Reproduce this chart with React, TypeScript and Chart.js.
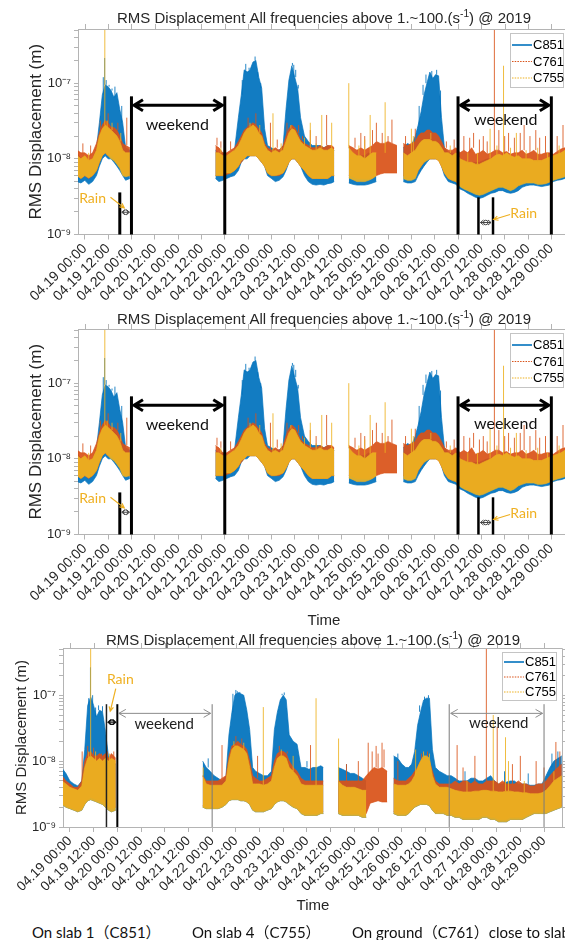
import React, { useEffect, useRef } from "react";
import { Chart, registerables } from "chart.js";

Chart.register(...registerables);
Chart.defaults.font.family = '"Liberation Sans", Arial, sans-serif';

const NM = 1e-9;
const _ = null;

// ---- time grid (hours from 04.19 00:00); a null-valued sample separates recording gaps
const timeHours = [
  -4, -2, 0, 2, 4, 6, 7.5, 9, 10.5, 12, 13.5, 15, 16.5, 18, 19.5, 21, 23.2,
  45,
  67.2, 69, 71, 73, 75, 77, 79, 80.5, 82, 83.5, 85, 86.5, 88, 89.5, 91, 92.5, 94, 96, 98, 100, 102, 103.5, 105, 106.5, 108, 109.5, 111, 113, 115, 117, 119, 121, 123, 125, 127, 128.3,
  132,
  135.8, 138, 140, 142, 144, 146, 148, 150, 152, 154, 156, 158, 160.6,
  162,
  163.8, 166, 168, 170, 171.5, 173, 174.5, 176, 177.5, 179, 180.5, 182, 183.5, 185, 187, 189, 191,
  193, 195, 197, 199, 201, 203, 205, 207, 209, 211, 213, 215, 217, 219, 221, 223, 225, 227, 229, 231, 233, 235, 237, 239, 241, 243, 245, 247, 249,
];

const tickHours = [0, 12, 24, 36, 48, 60, 72, 84, 96, 108, 120, 132, 144, 156, 168, 180, 192, 204, 216, 228, 240];
const xTickLabels = [
  "04.19 00:00", "04.19 12:00", "04.20 00:00", "04.20 12:00", "04.21 00:00", "04.21 12:00",
  "04.22 00:00", "04.22 12:00", "04.23 00:00", "04.23 12:00", "04.24 00:00", "04.24 12:00",
  "04.25 00:00", "04.25 12:00", "04.26 00:00", "04.26 12:00", "04.27 00:00", "04.27 12:00",
  "04.28 00:00", "04.28 12:00", "04.29 00:00",
];
const yTickValues = [
  1e-9, 2e-9, 3e-9, 4e-9, 5e-9, 6e-9, 7e-9, 8e-9, 9e-9,
  1e-8, 2e-8, 3e-8, 4e-8, 5e-8, 6e-8, 7e-8, 8e-8, 9e-8,
  1e-7, 2e-7, 3e-7, 4e-7, 5e-7,
];
const yMajorValues = [1e-9, 1e-8, 1e-7];
const yMajorLabels = ["10\u207B\u2079", "10\u207B\u2078", "10\u207B\u2077"];
const seriesNames = ["C851", "C761", "C755"];
const titleMain = "RMS Displacement All frequencies above 1.~100.(s";
const titleSup = "-1";
const titleTail = ") @ 2019";
const yTitle = "RMS Displacement (m)";
const xTitle = "Time";
const bottomCaptions = ["On slab 1\uFF08C851\uFF09", "On slab 4\uFF08C755\uFF09", "On ground\uFF08C761\uFF09close to slab"];

// ---- upper chart pair (values in nm): band top / bottom per series
const topC851Hi = [
  12, 10, 11, 9, 10, 14, 30, 70, 95, 90, 80, 65, 75, 45, 30, 14, 13,
  _,
  13, 12, 12, 11, 12, 13, 35, 70, 150, 140, 150, 190, 200, 120, 86, 25, 15, 14, 13, 13, 15, 45, 110, 170, 120, 85, 35, 20, 17, 15, 15, 15, 14, 15, 14, 13,
  _,
  14, 12, 11, 11, 11, 12, 11, 12, _, _, _, _, _,
  _,
  14, 16, 15, 20, 28, 42, 70, 100, 140, 115, 130, 125, 35, 14, 12, 12, 11,
  10, 9.5, 9, 9, 9, 9, 9.5, 10, 10, 10, 10, 10, 9.5, 9.5, 10, 10, 9.5, 9, 9, 9.5, 9.5, 9, 9, 9.5, 10.5, 11, 12, 13, 14,
];
const topC851Lo = [
  5, 4.8, 5.2, 4.6, 5, 6, 8, 10, 11, 10, 10, 9, 8, 7, 6, 5.2, 5.5,
  _,
  5.5, 5, 5.2, 5.5, 5.8, 6, 7, 9, 10, 10, 11, 11, 11, 10, 9, 8, 6, 5.5, 5, 5.2, 5.8, 7, 9, 10, 10, 9, 8, 6, 5, 4.6, 4.5, 4.6, 4.5, 4.7, 4.8, 5,
  _,
  4.8, 4.6, 4.5, 4.5, 4.5, 4.6, 4.8, 5, _, _, _, _, _,
  _,
  5, 4.8, 4.8, 5, 6, 7, 8, 9, 10, 10, 10, 10, 8, 6, 5, 4.8, 4.6,
  4, 3.8, 3.5, 3.3, 3.1, 3, 3.1, 3.3, 3.5, 3.6, 3.8, 3.8, 3.6, 3.5, 3.6, 3.8, 4.2, 4.4, 4.5, 4.5, 4.4, 4.3, 4.4, 4.5, 5, 5.2, 5.3, 5.5, 5.6,
];
const topC761Hi = [
  13, 12, 12, 11, 12, 16, 22, 28, 32, 30, 26, 26, 24, 20, 16, 15, 14,
  _,
  15, 14, 12, 12, 13, 14, 17, 20, 24, 26, 28, 30, 28, 25, 22, 16, 14, 13, 14, 13, 15, 20, 25, 28, 26, 22, 18, 16, 15, 14, 14, 15, 14, 15, 15, 14,
  _,
  15, 14, 13, 14, 13, 14, 15, 17, 16, 16, 17, 16, 15,
  _,
  16, 15, 16, 17, 20, 22, 22, 24, 24, 22, 22, 20, 17, 14, 13, 13, 14,
  12, 13, 12, 14, 11.5, 12, 13, 11.5, 12, 13, 13, 12, 12.5, 11.5, 12, 12, 13, 11.5, 12, 13, 11.5, 11.5, 12, 12, 11.5, 12.5, 13.5, 14, 15,
];
const topC761Lo = [
  6, 5.5, 6, 5.5, 6, 7, 9, 11, 12, 11, 11, 10, 9, 8, 6.5, 6, 6,
  _,
  6, 6, 6, 6.2, 6.5, 7, 8, 9, 10, 11, 11, 11, 11, 10, 9, 8, 6.5, 6, 6, 6, 6.5, 7.5, 9, 10, 10, 9, 8, 7, 6, 5.5, 5.5, 5.5, 5.5, 5.5, 6, 6,
  _,
  6, 5.8, 5.5, 5.5, 5.5, 5.5, 5.6, 6, 6.3, 6.5, 6.5, 6.5, 6.5,
  _,
  6, 5.5, 5.5, 5.8, 7, 8, 9, 10, 10, 10, 10, 9.5, 8, 6.5, 5.5, 5.2, 5,
  4.5, 4.2, 4, 3.8, 3.6, 3.5, 3.6, 3.8, 4, 4.2, 4.4, 4.4, 4.2, 4, 4.2, 4.5, 4.8, 5, 5, 5, 4.8, 4.8, 4.8, 5, 5.4, 5.6, 5.8, 6, 6,
];
const topC755Hi = [
  11, 10, 11, 9.5, 10, 13, 20, 25, 28, 26, 24, 22, 20, 17, 13, 12, 12,
  _,
  12, 12, 11, 11, 12, 13, 15, 18, 22, 25, 26, 28, 26, 22, 20, 15, 13, 12, 13, 12, 13, 17, 22, 25, 24, 20, 17, 15, 14, 13, 13, 14, 13, 13, 14, 13,
  _,
  14, 12, 11, 11, 10, 11, 12, 12, _, _, _, _, _,
  _,
  12, 11, 12, 13, 15, 17, 18, 18, 18, 17, 17, 16, 14, 12, 12, 11, 12,
  10, 9.5, 9, 9, 8.5, 8.5, 9, 9.5, 10, 11, 11.5, 11, 12, 11, 10.5, 11, 10, 10, 10, 9.5, 9.5, 9.5, 10, 10.5, 11, 11.5, 12, 13, 14,
];
const topC755Lo = [
  6, 5.5, 6, 5.6, 6, 7, 9, 11, 12, 11, 10, 9.5, 8.5, 7.5, 6, 5.8, 6,
  _,
  6, 6, 6, 6.5, 6.5, 7, 8, 9.5, 10, 11, 11, 11, 11, 10, 9, 8, 6.5, 6, 6, 6.2, 6.5, 7.5, 9, 10, 10, 9, 8, 7, 6, 5.5, 5.5, 5.5, 5.5, 5.5, 6, 6,
  _,
  5.6, 5.3, 5, 5, 5, 5.2, 5.5, 6, _, _, _, _, _,
  _,
  5.5, 5.2, 5.2, 5.5, 7, 8, 9, 9.5, 10, 10, 10, 9.5, 8, 6.5, 5.5, 5.2, 5,
  4.3, 4, 3.8, 3.6, 3.4, 3.3, 3.4, 3.6, 3.8, 4, 4.2, 4.2, 4, 3.8, 4, 4.4, 4.6, 4.8, 4.8, 4.8, 4.6, 4.6, 4.7, 4.9, 5.2, 5.4, 5.6, 5.8, 5.8,
];
// isolated peaks: [hour, peak nm]
const topC851Peaks = [
  [9.5, 120], [10.2, 215], [11, 110], [12.5, 95], [14, 85], [15.5, 90], [17, 70], [19, 50],
  [81, 110], [82.8, 180], [84.5, 160], [85.8, 175], [87.6, 225], [89, 140], [90.5, 100],
  [104.5, 90], [105.8, 140], [106.8, 185], [107.5, 175], [108.5, 150], [109.8, 95],
  [172, 50], [174, 95], [175.5, 130], [178.5, 145], [181, 150], [183, 80],
];
const topC761Peaks = [
  [-1, 16], [3, 15], [8, 32], [12, 40], [17, 30], [21.6, 35], [68, 19], [70, 17], [75, 17], [84, 35], [88, 40],
  [95.5, 30], [99, 18], [104, 30], [110, 28], [112, 20], [116, 24], [119, 20], [124.4, 38], [139, 19], [142, 22],
  [144, 20], [148, 24], [150, 30], [153, 22], [156, 20], [158, 33], [165, 20], [170, 25], [186, 17], [190, 18],
  [195, 20], [198, 19], [200, 22], [203, 18], [205, 20], [207, 17], [210.7, 700], [213, 24], [216, 20], [218, 22],
  [221, 19], [224, 22], [226, 28], [229, 20], [232, 24], [234, 19], [237, 20], [240, 22], [243, 20], [246, 28],
];
const topC755Peaks = [
  [2, 12], [10.3, 700], [11.5, 32], [14, 30], [18.5, 22], [70, 14], [85, 30], [90, 28], [96.8, 40], [101, 16],
  [106, 28], [113, 19], [116, 30], [119, 16], [121.9, 38], [127, 30], [135.8, 100], [141, 15], [144, 18],
  [146.8, 38], [154.5, 56], [168, 25], [169, 20], [178, 22], [188, 15], [197, 12], [202, 12], [208.5, 25],
  [212, 15], [215.4, 170], [219, 14], [222, 22], [227, 13], [233, 14], [238, 12], [244, 15],
];

// ---- bottom chart (values in nm)
const botC851Hi = [
  7.8, 6.5, 5, 4.5, 4.2, 5, 15, 70, 95, 70, 47, 59, 56, 28, 12, 10, 9,
  _,
  10, 8, 7, 6, 5.5, 5, 6, 25, 55, 100, 110, 105, 100, 60, 30, 8, 7, 6.5, 6, 6, 7, 30, 55, 85, 100, 85, 25, 20, 18, 8, 8, 7.5, 8, 8, 8.5, 8,
  _,
  8, 7.5, 7, 6.5, 6.5, 6, 5.5, 5, _, _, _, _, _,
  _,
  12, 11, 9, 8, 8, 9, 14, 35, 56, 84, 90, 90, 15, 8, 7, 6.5, 6,
  6, 5.5, 5, 5, 5, 5.5, 5.5, 5, 5, 5.5, 6, 5, 4.5, 4.5, 4.8, 5, 5, 4.5, 4.5, 4.5, 4.3, 4.3, 4.5, 4.5, 6, 8, 10, 11, 12,
];
const botC851Lo = [
  2.2, 2, 1.9, 1.8, 1.7, 1.8, 2.2, 2.5, 2.6, 2.5, 2.4, 2.3, 2.2, 2, 1.8, 1.7, 1.8,
  _,
  2, 1.9, 1.9, 1.9, 1.9, 2, 2.2, 2.5, 2.6, 2.6, 2.6, 2.5, 2.5, 2.4, 2.2, 1.8, 1.7, 1.7, 1.7, 1.8, 1.9, 2.2, 2.4, 2.5, 2.5, 2.4, 2.2, 2, 1.9, 1.6, 1.5, 1.5, 1.5, 1.5, 1.6, 1.6,
  _,
  1.6, 1.5, 1.5, 1.5, 1.5, 1.5, 1.4, 1.4, _, _, _, _, _,
  _,
  1.6, 1.5, 1.5, 1.5, 1.6, 1.8, 2, 2.1, 2.2, 2.2, 2.2, 2.1, 1.8, 1.6, 1.6, 1.6, 1.5,
  1.5, 1.4, 1.4, 1.3, 1.3, 1.3, 1.3, 1.3, 1.4, 1.4, 1.3, 1.3, 1.2, 1.2, 1.2, 1.3, 1.3, 1.3, 1.3, 1.4, 1.5, 1.6, 1.6, 1.6, 1.6, 1.7, 1.8, 1.9, 2,
];
const botC761Hi = [
  6, 5, 4.5, 4, 4, 5, 10, 13, 14, 12, 12, 13, 12, 13, 11, 13, 11,
  _,
  6, 5, 5, 5, 5, 5.5, 6, 12, 17, 18, 20, 18, 17, 15, 10, 6, 5.5, 5, 5, 5.5, 6, 10, 13, 14, 14, 13, 10, 8, 7, 5.5, 5, 5, 5, 5, 5, 5,
  _,
  5, 5, 5, 5, 5, 5, 5, 6, 7, 8, 7.5, 8, 7,
  _,
  5.5, 5, 5, 5, 5.5, 6, 7, 8, 10, 11, 11, 10, 7, 5, 4.5, 4.5, 4.5,
  4.5, 5, 4.5, 5, 5, 4.5, 5, 4.5, 4.5, 5, 5, 5, 4.5, 5, 4.5, 4.5, 4.5, 5, 4.5, 4.5, 4.2, 4.2, 4.5, 4.5, 5, 6, 7, 8, 9,
];
const botC761Lo = [
  2.3, 2.1, 2, 1.9, 1.8, 1.9, 2.3, 2.6, 2.8, 2.7, 2.6, 2.5, 2.4, 2.2, 2, 1.9, 2,
  _,
  2.1, 2, 2, 2, 2, 2.1, 2.3, 2.6, 2.7, 2.7, 2.7, 2.6, 2.6, 2.5, 2.3, 1.9, 1.8, 1.8, 1.8, 1.9, 2, 2.3, 2.5, 2.6, 2.6, 2.5, 2.3, 2.1, 2, 1.7, 1.6, 1.6, 1.6, 1.6, 1.7, 1.7,
  _,
  1.7, 1.6, 1.6, 1.6, 1.6, 1.6, 1.5, 1.6, 2.3, 2.4, 2.5, 2.4, 2.4,
  _,
  1.7, 1.6, 1.6, 1.6, 1.7, 1.9, 2.1, 2.2, 2.3, 2.3, 2.3, 2.2, 1.9, 1.7, 1.7, 1.7, 1.6,
  1.6, 1.5, 1.5, 1.4, 1.4, 1.4, 1.4, 1.4, 1.5, 1.5, 1.4, 1.4, 1.3, 1.3, 1.3, 1.4, 1.4, 1.4, 1.4, 1.5, 1.6, 1.7, 1.7, 1.7, 1.7, 1.8, 1.9, 2, 2.1,
];
const botC755Hi = [
  5, 4.5, 4, 3.8, 3.6, 4.2, 8, 11, 12, 11, 10, 11, 10, 11, 10, 11, 10,
  _,
  6, 4.5, 4.3, 4.3, 4.3, 4.3, 5, 10, 15, 17, 17, 16, 15, 13, 8, 4.5, 4.5, 4.5, 4.3, 4.5, 5, 8, 11, 12, 12, 11, 8, 7, 6, 4.5, 4.3, 4.3, 4.3, 4.3, 4.3, 4.3,
  _,
  5, 4.3, 4, 4, 4, 3.8, 3.6, 3.6, _, _, _, _, _,
  _,
  4.5, 4.3, 4.3, 4.3, 4.5, 5, 6, 8, 10, 12, 12, 11, 6, 4.5, 4, 4, 4,
  3.8, 3.6, 3.5, 3.4, 3.4, 3.4, 3.5, 3.5, 3.6, 3.6, 3.5, 3.5, 3.4, 3.4, 3.5, 3.5, 3.4, 3.4, 3.3, 3.3, 3.2, 3.2, 3.2, 3.3, 3.6, 4.2, 5, 5.5, 6,
];
const botC755Lo = [
  2.2, 2, 1.9, 1.8, 1.7, 1.8, 2.2, 2.5, 2.6, 2.5, 2.4, 2.3, 2.2, 2, 1.8, 1.7, 1.8,
  _,
  2, 1.9, 1.9, 1.9, 1.9, 2, 2.2, 2.5, 2.6, 2.6, 2.6, 2.5, 2.5, 2.4, 2.2, 1.8, 1.7, 1.7, 1.7, 1.8, 1.9, 2.2, 2.4, 2.5, 2.5, 2.4, 2.2, 2, 1.9, 1.6, 1.5, 1.5, 1.5, 1.5, 1.6, 1.6,
  _,
  1.6, 1.5, 1.5, 1.5, 1.5, 1.5, 1.4, 1.4, _, _, _, _, _,
  _,
  1.6, 1.5, 1.5, 1.5, 1.6, 1.8, 2, 2.1, 2.2, 2.2, 2.2, 2.1, 1.8, 1.6, 1.6, 1.6, 1.5,
  1.5, 1.4, 1.4, 1.3, 1.3, 1.3, 1.3, 1.3, 1.4, 1.4, 1.3, 1.3, 1.2, 1.2, 1.2, 1.3, 1.3, 1.3, 1.3, 1.4, 1.5, 1.6, 1.6, 1.6, 1.6, 1.7, 1.8, 1.9, 2,
];
const botC851Peaks = [
  [9.5, 90], [10.4, 265], [11.5, 100], [13, 65], [14.5, 70], [16.5, 68], [70, 11], [82.5, 105], [84, 120],
  [84.7, 115], [86, 112], [88.5, 90], [106, 85], [107.4, 105], [108.5, 110], [111.5, 25], [120, 10], [140, 9],
  [166, 13], [177, 70], [179.5, 95], [181.5, 100], [200, 7], [220, 7], [232, 6.5], [244, 13], [247, 14],
];
const botC761Peaks = [
  [6.2, 14], [9, 17], [12, 16], [16, 13], [19, 14], [22.2, 14], [77, 17.5], [84, 24], [87, 22], [95, 12],
  [106, 17], [110, 14], [121.8, 17.5], [140, 9], [146, 10], [151, 19], [153, 14], [155, 17], [156, 13],
  [158, 19], [159, 15], [166, 10], [178, 13], [181, 14], [196, 17.5], [199, 8], [205, 12], [210.8, 700],
  [216.3, 33], [224, 9], [228, 12], [236, 10], [240, 8], [246, 19.5], [248, 14],
];
const botC755Peaks = [
  [9.5, 14], [10.5, 700], [13, 14], [20, 13], [67.5, 8], [83, 20], [88, 19], [97.9, 66], [107, 15], [113, 12],
  [124.6, 90], [136, 22], [175, 15], [179, 14], [182, 13], [201, 5], [214.3, 50], [220.5, 23], [222, 10],
  [230, 5], [245, 7],
];

// annotation times (hours)
const weekendSpans = [[24, 72], [192, 240]];
const rainSpansTop = [[18, 24], [202.5, 210]];
const rainSpansBottom = [[18.5, 24]];

// ---------------- styling / helpers
const COLORS = ["#0072BD", "#D95319", "#EDB120"];
const AXIS = "#b4b4b4";
const TEXT = "#262626";
const RAIN = "#EFB021";
const SANS = '"Liberation Sans", Arial, sans-serif';
const HUMAN = 'Lato, "Noto Sans CJK SC", sans-serif';

function rgba(hex: string, a: number) {
  const n = parseInt(hex.slice(1), 16);
  return `rgba(${(n >> 16) & 255},${(n >> 8) & 255},${n & 255},${a})`;
}
function toPoints(vals: (number | null)[]) {
  return timeHours.map((t, i) => ({ x: t, y: vals[i] == null ? null : (vals[i] as number) * NM }));
}
function peakPoints(peaks: number[][], hi: (number | null)[]) {
  const pts: any[] = [];
  peaks.forEach(([t, p]) => {
    let best = -1, bd = Infinity;
    timeHours.forEach((tt, i) => {
      if (hi[i] != null && Math.abs(tt - t) < bd) { bd = Math.abs(tt - t); best = i; }
    });
    const base = best >= 0 ? Math.min(hi[best] as number, p) : p;
    pts.push({ x: t, y: base * NM }, { x: t, y: p * NM }, { x: t, y: null });
  });
  return pts;
}
function makeDatasets(hi: any[], lo: any[], peaks: any[]) {
  const ds: any[] = [];
  const bandOrder = [10, 8, 6];
  const peakOrder = [9, 7, 5];
  for (let k = 0; k < 3; k++) {
    ds.push({ label: seriesNames[k], data: toPoints(hi[k]), borderColor: rgba(COLORS[k], 0.85), backgroundColor: rgba(COLORS[k], 0.93), borderWidth: 0.8, fill: "+1", pointRadius: 0, tension: 0, order: bandOrder[k] });
    ds.push({ label: seriesNames[k] + " min", data: toPoints(lo[k]), borderColor: rgba(COLORS[k], 0.85), borderWidth: 0.8, fill: false, pointRadius: 0, tension: 0, order: bandOrder[k] });
  }
  for (let k = 0; k < 3; k++) {
    ds.push({ label: seriesNames[k] + " peaks", data: peakPoints(peaks[k], hi[k]), borderColor: rgba(COLORS[k], 0.85), borderWidth: 1, fill: false, pointRadius: 0, order: peakOrder[k] });
  }
  return ds;
}

function chevron(ctx: any, x: number, y: number, dir: number, len: number, hw: number) {
  ctx.moveTo(x + dir * len, y - hw);
  ctx.lineTo(x, y);
  ctx.lineTo(x + dir * len, y + hw);
}

function makeNotesPlugin(n: any) {
  return {
    id: "notes",
    afterDatasetsDraw(chart: any) {
      const { ctx, chartArea: a, scales } = chart;
      const X = (t: number) => scales.x.getPixelForValue(t);
      const Y = (v: number) => scales.y.getPixelForValue(v * NM);
      ctx.save();
      ctx.lineCap = "butt";
      ctx.lineJoin = "miter";
      n.vlines.forEach((l: any) => {
        ctx.beginPath(); ctx.lineWidth = l.w; ctx.strokeStyle = l.c;
        const x = X(l.t); ctx.moveTo(x, Y(l.top)); ctx.lineTo(x, a.bottom); ctx.stroke();
      });
      n.arrows.forEach((r: any) => {
        const x1 = X(r.t1) + r.gap, x2 = X(r.t2) - r.gap, y = Y(r.level);
        ctx.beginPath(); ctx.lineWidth = r.w; ctx.strokeStyle = r.c;
        ctx.moveTo(x1, y); ctx.lineTo(x2, y);
        chevron(ctx, x1, y, 1, r.head, r.hw); chevron(ctx, x2, y, -1, r.head, r.hw);
        ctx.stroke();
        if (r.circle) { ctx.beginPath(); ctx.arc((x1 + x2) / 2, y, 2.3, 0, Math.PI * 2); ctx.stroke(); }
      });
      n.pointers.forEach((p: any) => {
        const x1 = X(p.t1), y1 = Y(p.l1), x2 = X(p.t2), y2 = Y(p.l2);
        const ang = Math.atan2(y2 - y1, x2 - x1);
        ctx.beginPath(); ctx.lineWidth = 1.2; ctx.strokeStyle = p.c;
        ctx.moveTo(x1, y1); ctx.lineTo(x2, y2);
        ctx.moveTo(x2 - 5 * Math.cos(ang - 0.45), y2 - 5 * Math.sin(ang - 0.45));
        ctx.lineTo(x2, y2);
        ctx.lineTo(x2 - 5 * Math.cos(ang + 0.45), y2 - 5 * Math.sin(ang + 0.45));
        ctx.stroke();
      });
      n.texts.forEach((s: any) => {
        ctx.font = s.font; ctx.fillStyle = s.c; ctx.textAlign = "center"; ctx.textBaseline = "middle";
        ctx.fillText(s.s, X(s.t), Y(s.level));
      });
      ctx.restore();
    },
  };
}

function makeDecorPlugin(def: any) {
  return {
    id: "decor",
    afterDraw(chart: any) {
      const { ctx, chartArea: a, scales } = chart;
      ctx.save();
      ctx.strokeStyle = AXIS; ctx.lineWidth = 1;
      ctx.beginPath();
      ctx.moveTo(a.left, a.top + 0.5); ctx.lineTo(a.right - 0.5, a.top + 0.5); ctx.lineTo(a.right - 0.5, a.bottom);
      tickHours.forEach((t) => {
        const px = Math.round(scales.x.getPixelForValue(t)) + 0.5;
        ctx.moveTo(px, a.top); ctx.lineTo(px, a.top - 5);
      });
      yTickValues.forEach((v) => {
        const py = Math.round(scales.y.getPixelForValue(v)) + 0.5;
        ctx.moveTo(a.right, py); ctx.lineTo(a.right + 4, py);
      });
      ctx.stroke();
      const fs = def.titleSize;
      const cx = (a.left + a.right) / 2;
      ctx.fillStyle = TEXT; ctx.textBaseline = "alphabetic"; ctx.textAlign = "left";
      ctx.font = `${fs}px ${SANS}`;
      const w1 = ctx.measureText(titleMain).width, w3 = ctx.measureText(titleTail).width;
      ctx.font = `${fs * 0.68}px ${SANS}`;
      const w2 = ctx.measureText(titleSup).width;
      const x0 = cx - (w1 + w2 + w3) / 2;
      ctx.font = `${fs}px ${SANS}`;
      ctx.fillText(titleMain, x0, def.titleBase);
      ctx.fillText(titleTail, x0 + w1 + w2, def.titleBase);
      ctx.font = `${fs * 0.68}px ${SANS}`;
      ctx.fillText(titleSup, x0 + w1, def.titleBase - fs * 0.42);
      const L = def.legend;
      const bx = a.right - L.inset - L.w, by = a.top + 4;
      ctx.fillStyle = "#fff"; ctx.fillRect(bx, by, L.w, L.h);
      ctx.strokeStyle = "#c4c4c4"; ctx.lineWidth = 1;
      ctx.strokeRect(Math.round(bx) + 0.5, Math.round(by) + 0.5, L.w, L.h);
      seriesNames.forEach((name, k) => {
        const y = by + L.rows[k];
        ctx.beginPath(); ctx.strokeStyle = COLORS[k];
        ctx.lineWidth = k === 0 ? 1.6 : 1.2;
        ctx.setLineDash(k === 0 ? [] : [1.5, 1.2]);
        ctx.moveTo(bx + 2, y); ctx.lineTo(bx + 22, y); ctx.stroke();
        ctx.setLineDash([]);
        ctx.fillStyle = "#000"; ctx.font = `${L.font}px ${SANS}`; ctx.textBaseline = "middle";
        ctx.fillText(name, bx + 23, y + 0.5);
      });
      ctx.restore();
    },
  };
}

function makeTopNotes(rightTextLevel: number) {
  const thick = "#000";
  return {
    vlines: [
      { t: rainSpansTop[0][0], top: 3.6, w: 3, c: thick },
      { t: weekendSpans[0][0], top: 67, w: 3, c: thick },
      { t: weekendSpans[0][1], top: 67, w: 3, c: thick },
      { t: weekendSpans[1][0], top: 67, w: 3, c: thick },
      { t: rainSpansTop[1][0], top: 3.1, w: 2.5, c: thick },
      { t: rainSpansTop[1][1], top: 3.1, w: 2.5, c: thick },
      { t: weekendSpans[1][1], top: 67, w: 3, c: thick },
    ],
    arrows: [
      { t1: weekendSpans[0][0], t2: weekendSpans[0][1], level: 51, w: 3, c: thick, head: 9, hw: 5.5, gap: 2.5 },
      { t1: weekendSpans[1][0], t2: weekendSpans[1][1], level: 51, w: 3, c: thick, head: 9, hw: 5.5, gap: 2.5 },
      { t1: rainSpansTop[0][0], t2: rainSpansTop[0][1], level: 1.97, w: 1, c: "#444", head: 3, hw: 2.5, gap: 2, circle: true },
      { t1: rainSpansTop[1][0], t2: rainSpansTop[1][1], level: 1.44, w: 1, c: "#444", head: 3, hw: 2.5, gap: 2, circle: true },
    ],
    pointers: [
      { t1: 13.2, l1: 3.1, t2: 20.3, l2: 2.25, c: RAIN },
      { t1: 218.8, l1: 1.84, t2: 210.3, l2: 1.58, c: RAIN },
    ],
    texts: [
      { t: 47.6, level: 28.4, s: "weekend", font: `16px ${HUMAN}`, c: "#111" },
      { t: 216.5, level: rightTextLevel, s: "weekend", font: `16px ${HUMAN}`, c: "#111" },
      { t: 4.0, level: 2.97, s: "Rain", font: `14px ${HUMAN}`, c: RAIN },
      { t: 225.8, level: 1.9, s: "Rain", font: `14px ${HUMAN}`, c: RAIN },
    ],
  };
}
const bottomNotes = {
  vlines: [
    { t: rainSpansBottom[0][0], top: 73, w: 1.5, c: "#222" },
    { t: weekendSpans[0][0], top: 73, w: 2, c: "#000" },
    { t: weekendSpans[0][1], top: 73, w: 1, c: "#7a7a7a" },
    { t: weekendSpans[1][0], top: 73, w: 1, c: "#7a7a7a" },
    { t: weekendSpans[1][1], top: 73, w: 1, c: "#7a7a7a" },
  ],
  arrows: [
    { t1: weekendSpans[0][0], t2: weekendSpans[0][1], level: 53, w: 1, c: "#8c8c8c", head: 7, hw: 4, gap: 1.5 },
    { t1: weekendSpans[1][0], t2: weekendSpans[1][1], level: 53, w: 1, c: "#8c8c8c", head: 7, hw: 4, gap: 1.5 },
    { t1: rainSpansBottom[0][0], t2: rainSpansBottom[0][1], level: 39, w: 1.2, c: "#111", head: 3, hw: 2.5, gap: 1.5, circle: true },
  ],
  pointers: [{ t1: 23.2, l1: 126, t2: 20.4, l2: 57, c: RAIN }],
  texts: [
    { t: 47.7, level: 36.3, s: "weekend", font: `15px ${HUMAN}`, c: "#222" },
    { t: 217.1, level: 38, s: "weekend", font: `15px ${HUMAN}`, c: "#222" },
    { t: 25.5, level: 173, s: "Rain", font: `14px ${HUMAN}`, c: RAIN },
  ],
};

const chartDefs = [
  {
    id: 1, top: 0, w: 575, h: 310, pad: { top: 29, left: 26, right: 5, bottom: 0 }, yW: 52, xH: 75.5,
    titleBase: 23, titleSize: 15, yTitleSize: 17, xTick: 14, yTick: 13, showTime: false,
    hi: [topC851Hi, topC761Hi, topC755Hi], lo: [topC851Lo, topC761Lo, topC755Lo], peaks: [topC851Peaks, topC761Peaks, topC755Peaks],
    notes: makeTopNotes(32.3), legend: { inset: 7, w: 53, h: 54, rows: [12, 28.5, 45], font: 13 },
  },
  {
    id: 2, top: 300, w: 575, h: 330, pad: { top: 29, left: 26, right: 5, bottom: 0 }, yW: 52, xH: 95.5,
    titleBase: 24, titleSize: 15, yTitleSize: 17, xTick: 14, yTick: 13, showTime: true,
    hi: [topC851Hi, topC761Hi, topC755Hi], lo: [topC851Lo, topC761Lo, topC755Lo], peaks: [topC851Peaks, topC761Peaks, topC755Peaks],
    notes: makeTopNotes(28.6), legend: { inset: 7, w: 53, h: 54, rows: [12, 28.5, 45], font: 13 },
  },
  {
    id: 3, top: 630, w: 565, h: 285, pad: { top: 18, left: 13, right: 2, bottom: 0 }, yW: 50, xH: 88,
    titleBase: 15, titleSize: 15, yTitleSize: 15, xTick: 13.5, yTick: 13, showTime: true,
    hi: [botC851Hi, botC761Hi, botC755Hi], lo: [botC851Lo, botC761Lo, botC755Lo], peaks: [botC851Peaks, botC761Peaks, botC755Peaks],
    notes: bottomNotes, legend: { inset: 7, w: 54, h: 48, rows: [10, 25, 40], font: 13 },
  },
];

function Panel({ def }: { def: any }) {
  const ref = useRef<HTMLCanvasElement | null>(null);
  useEffect(() => {
    const chart = new Chart(ref.current as HTMLCanvasElement, {
      type: "line",
      data: { datasets: makeDatasets(def.hi, def.lo, def.peaks) },
      options: {
        responsive: false,
        animation: false,
        devicePixelRatio: 1,
        events: [],
        layout: { padding: def.pad },
        plugins: { legend: { display: false }, tooltip: { enabled: false }, title: { display: false } },
        scales: {
          x: {
            type: "linear", min: -3.5, max: 249.6,
            afterBuildTicks: (s: any) => { s.ticks = tickHours.map((v) => ({ value: v })); },
            afterFit: (s: any) => { s.height = def.xH; },
            ticks: {
              autoSkip: false, minRotation: 45, maxRotation: 45, padding: 1, color: TEXT,
              font: { size: def.xTick, family: SANS },
              callback: (_v: any, i: number) => xTickLabels[i],
            },
            grid: { drawOnChartArea: false, drawTicks: true, tickLength: 5, color: AXIS },
            border: { display: true, color: AXIS, width: 1 },
            title: { display: def.showTime, text: xTitle, color: TEXT, padding: 0, font: { size: 15, family: SANS } },
          },
          y: {
            type: "logarithmic", min: 1e-9, max: 5.2e-7,
            afterBuildTicks: (s: any) => { s.ticks = yTickValues.map((v) => ({ value: v })); },
            afterFit: (s: any) => { s.width = def.yW; },
            ticks: {
              autoSkip: false, padding: 3, color: TEXT, font: { size: def.yTick, family: SANS },
              callback: (v: any) => {
                const i = yMajorValues.findIndex((m) => Math.abs(Math.log10(m) - Math.log10(Number(v))) < 1e-6);
                return i >= 0 ? yMajorLabels[i] : "";
              },
            },
            grid: { drawOnChartArea: false, drawTicks: true, tickLength: 4, color: AXIS },
            border: { display: true, color: AXIS, width: 1 },
            title: { display: true, text: yTitle, color: TEXT, padding: 0, font: { size: def.yTitleSize, family: SANS } },
          },
        },
      } as any,
      plugins: [makeNotesPlugin(def.notes), makeDecorPlugin(def)],
    });
    return () => chart.destroy();
  }, []);
  return (
    <canvas
      ref={ref}
      width={def.w}
      height={def.h}
      style={{ position: "absolute", left: 0, top: def.top, width: def.w, height: def.h }}
    />
  );
}

const captionLeft = [32, 192, 352];

export default function App() {
  return (
    <div style={{ position: "absolute", left: 0, top: 0, width: 565, height: 940, overflow: "hidden", background: "#fff" }}>
      {chartDefs.map((d) => <Panel key={d.id} def={d} />)}
      {bottomCaptions.map((c, i) => (
        <div
          key={i}
          style={{ position: "absolute", left: captionLeft[i], top: 922, font: `15px ${HUMAN}`, color: "#111", whiteSpace: "nowrap", lineHeight: "20px" }}
        >
          {c}
        </div>
      ))}
    </div>
  );
}
